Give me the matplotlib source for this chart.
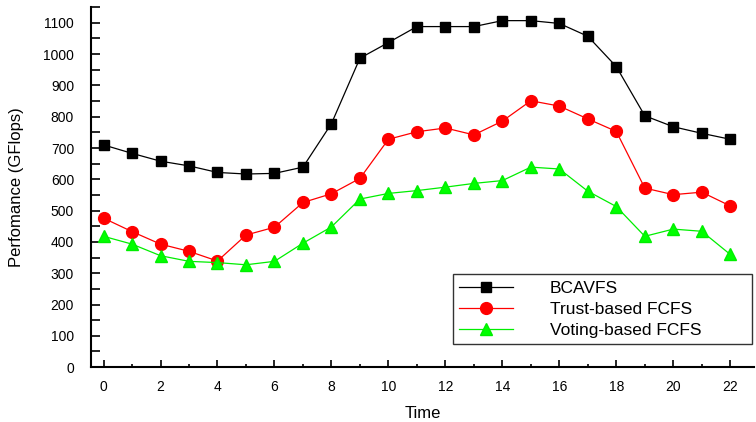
import matplotlib.pyplot as plt
from matplotlib.ticker import MultipleLocator

plt.rcParams['font.family'] = ['Liberation Sans', 'DejaVu Sans']

hours = list(range(23))
bcavfs = [710, 683, 658, 643, 622, 617, 619, 639, 778, 987, 1037, 1088, 1088,
          1088, 1107, 1107, 1098, 1057, 960, 803, 768, 747, 728]
trust = [476, 433, 393, 370, 339, 422, 447, 526, 554, 603, 728, 752, 764,
         742, 786, 851, 834, 793, 753, 572, 551, 559, 515]
voting = [418, 393, 356, 338, 334, 327, 338, 396, 448, 537, 555, 564, 575,
          587, 596, 639, 633, 562, 513, 418, 441, 434, 360]

fig = plt.figure(figsize=(7.56, 4.22), dpi=100)
ax = fig.add_axes([0.120, 0.130, 0.878, 0.853])

ax.plot(hours, bcavfs, color='black', lw=0.9, marker='s', ms=7.5,
        mfc='black', mec='black', label='BCAVFS')
ax.plot(hours, trust, color='red', lw=0.9, marker='o', ms=8.5,
        mfc='red', mec='red', label='Trust-based FCFS')
ax.plot(hours, voting, color='#00ee00', lw=0.9, marker='^', ms=9,
        mfc='#00ff00', mec='#00ee00', label='Voting-based FCFS')

ax.set_xlim(-0.45, 22.85)
ax.set_ylim(0, 1150)
ax.xaxis.set_major_locator(MultipleLocator(2))
ax.xaxis.set_minor_locator(MultipleLocator(1))
ax.yaxis.set_major_locator(MultipleLocator(100))
ax.yaxis.set_minor_locator(MultipleLocator(50))
ax.tick_params(axis='both', which='both', direction='in', width=1.2, labelsize=10)
ax.tick_params(axis='y', which='both', length=6.5)
ax.tick_params(axis='x', which='major', length=5)
ax.tick_params(axis='x', which='minor', length=2.5)
ax.tick_params(axis='y', which='major', pad=12)
ax.tick_params(axis='x', which='major', pad=9)

for s in ['top', 'right']:
    ax.spines[s].set_visible(False)
for s in ['left', 'bottom']:
    ax.spines[s].set_linewidth(1.5)

ax.set_xlabel('Time', fontsize=12, labelpad=9)
ax.set_ylabel('Perfomance (GFlops)', fontsize=12, labelpad=14)

leg = ax.legend(loc='lower left', bbox_to_anchor=(0.546, 0.064, 0.451, 0.192),
                mode='expand', fontsize=12.5, frameon=True, fancybox=False,
                borderaxespad=0, handlelength=3.1, borderpad=0.36,
                labelspacing=0.34, handletextpad=2.1)
leg.get_frame().set_edgecolor('black')
leg.get_frame().set_linewidth(1.0)

fig.savefig('out.png', dpi=100)
